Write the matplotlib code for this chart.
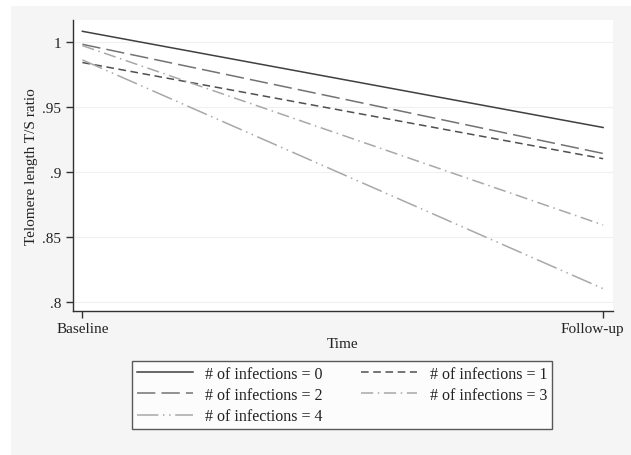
import matplotlib
matplotlib.use('Agg')
import matplotlib.pyplot as plt
from matplotlib.patches import Rectangle
from matplotlib.transforms import ScaledTranslation

# data
time_labels = ['Baseline', 'Follow-up']
time_pos = [0, 1]
series_names = ['# of infections = 0', '# of infections = 1', '# of infections = 2',
                '# of infections = 3', '# of infections = 4']
baseline = [1.008, 0.984, 0.998, 0.997, 0.986]
followup = [0.934, 0.910, 0.914, 0.859, 0.810]
yticks = [0.8, 0.85, 0.9, 0.95, 1.0]
ytick_labels = ['.8', '.85', '.9', '.95', '1']

colors = ['#404040', '#505050', '#737373', '#a8a8a8', '#a8a8a8']
dashes = [None, (5, 3), (12, 4), (8, 3, 1, 3), (14, 3, 1, 3, 1, 3)]

plt.rcParams['font.family'] = ['Liberation Serif', 'DejaVu Serif']

W, H = 631, 456
fig = plt.figure(figsize=(W / 100, H / 100), dpi=100)
fig.patch.set_facecolor('white')
fig.patches.append(Rectangle((11 / W, 0), 1 - 11 / W, 1 - 7 / H, transform=fig.transFigure,
                             facecolor='#f5f5f5', edgecolor='none', zorder=-10))

ax = fig.add_axes([72.5 / W, 1 - 312 / H, (613 - 72.5) / W, (312 - 21) / H])
ax.set_facecolor('white')

handles = []
for i in range(len(series_names)):
    ln, = ax.plot(time_pos, [baseline[i], followup[i]], color=colors[i], lw=1.1,
                  label=series_names[i])
    if dashes[i] is not None:
        ln.set_dashes(dashes[i])
    handles.append(ln)

ax.set_xlim(-0.019, 1.019)
ax.set_ylim(0.7928, 1.0167)
ax.set_xticks(time_pos)
ax.set_xticklabels(time_labels)
ax.set_yticks(yticks)
ax.set_yticklabels(ytick_labels)
for y in yticks:
    ax.axhline(y, color='#f0f0f0', lw=0.8, zorder=0)

for s in ['top', 'right']:
    ax.spines[s].set_visible(False)
for s in ['left', 'bottom']:
    ax.spines[s].set_color('#303030')
    ax.spines[s].set_linewidth(1.0)
ax.tick_params(axis='both', length=5, width=1.0, color='#303030', labelsize=11,
               labelcolor='#222222', pad=3)
# Stata pulls the last label inside the graph
lab = ax.get_xticklabels()[-1]
lab.set_transform(lab.get_transform() + ScaledTranslation(-11 / 100, 0, fig.dpi_scale_trans))

ax.set_xlabel('Time', fontsize=11, color='#222222', labelpad=1)
ax.set_ylabel('Telomere length T/S ratio', fontsize=11, color='#222222', labelpad=3)

# legend filled row by row like Stata: column 1 = 0,2,4 ; column 2 = 1,3
order = [0, 2, 4, 1, 3]
leg = fig.legend([handles[i] for i in order], [series_names[i] for i in order],
                 ncol=2, loc='upper left', bbox_to_anchor=(132 / W, 1 - 362 / H),
                 frameon=True, fancybox=False, fontsize=11.5, handlelength=3.5,
                 handletextpad=0.8, columnspacing=2.4, labelspacing=0.33,
                 borderpad=0.3, borderaxespad=0)
leg.get_frame().set_edgecolor('#303030')
leg.get_frame().set_linewidth(1.0)
leg.get_frame().set_facecolor('white')
for t in leg.get_texts():
    t.set_color('#222222')

fig.savefig('out.png', dpi=100, facecolor=fig.get_facecolor())
